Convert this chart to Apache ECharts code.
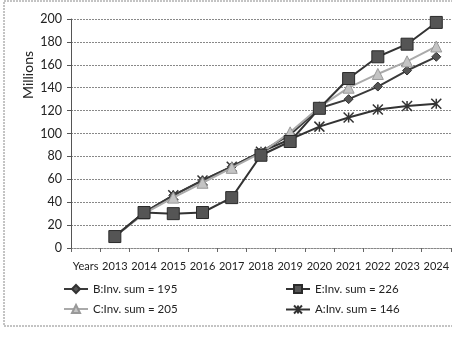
<!DOCTYPE html>
<html>
<head>
<meta charset="utf-8">
<script src="https://cdn.jsdelivr.net/npm/echarts@6/dist/echarts.min.js"></script>
<style>
  html, body { margin: 0; padding: 0; background: #fff; }
  #chart { width: 452px; height: 342px; }
</style>
</head>
<body>
<div id="chart"></div>
<script>
// x categories (first slot holds the "Years" caption, as in the original)
const categories = ['Years', '2013', '2014', '2015', '2016', '2017', '2018', '2019', '2020', '2021', '2022', '2023', '2024']

// values in millions, one per category (first is empty)
const seriesB = [null, 10, 31, 46, 59, 71, 84, 99, 122, 130, 141, 155, 167]
const seriesE = [null, 10, 31, 30, 31, 44, 81, 93, 122, 148, 167, 178, 197]
const seriesC = [null, 10, 30, 44, 57, 70, 83, 101, 123, 140, 152, 163, 176]
const seriesA = [null, 10, 31, 46, 59, 71, 84, 95, 106, 114, 121, 124, 126]

const nameB = 'B:Inv. sum = 195'
const nameE = 'E:Inv. sum = 226'
const nameC = 'C:Inv. sum = 205'
const nameA = 'A:Inv. sum = 146'

const font = 'Lato, "Open Sans", sans-serif'
const xMark = 'path://M0,0 L10,10 M10,0 L0,10 M5,0 L5,10'

const chart = echarts.init(document.getElementById('chart'))

const lineSeries = (name, data, color, symbol, size, itemStyle, z) => ({
  name,
  type: 'line',
  data,
  symbol,
  symbolSize: size,
  showSymbol: true,
  connectNulls: false,
  lineStyle: { color, width: 2 },
  itemStyle,
  z
})

const legendBase = {
  orient: 'vertical',
  top: 283,
  padding: 0,
  itemWidth: 24,
  itemHeight: 10,
  itemGap: 8,
  textStyle: { fontSize: 11.5, color: '#222', fontFamily: font }
}

chart.setOption({
  animation: false,
  backgroundColor: '#fff',
  textStyle: { fontFamily: font },
  graphic: [
    {
      type: 'rect',
      shape: { x: 4, y: 1, width: 470, height: 325 },
      style: { fill: 'none', stroke: '#888', lineWidth: 1, lineDash: [2, 1] },
      silent: true
    },
    {
      type: 'text',
      x: 28,
      y: 75,
      rotation: Math.PI / 2,
      style: {
        text: 'Millions',
        font: '14px ' + font,
        fill: '#222',
        align: 'center',
        verticalAlign: 'middle'
      }
    }
  ],
  grid: { left: 71, right: 0, top: 19, bottom: 94, containLabel: false },
  legend: [
    Object.assign({}, legendBase, { data: [nameB, nameC], left: 63 }),
    Object.assign({}, legendBase, { data: [nameE, nameA], left: 285 })
  ],
  xAxis: {
    type: 'category',
    data: categories,
    boundaryGap: true,
    axisLine: { lineStyle: { color: '#888', type: [2, 1], width: 1 } },
    axisTick: { show: true, length: 4, interval: 0, lineStyle: { color: '#666' } },
    axisLabel: { interval: 0, margin: 13, fontSize: 11, color: '#222', fontFamily: font },
    splitLine: { show: false }
  },
  yAxis: {
    type: 'value',
    min: 0,
    max: 200,
    interval: 20,
    axisLine: { show: true, lineStyle: { color: '#555', width: 1 } },
    axisTick: { show: true, length: 4, lineStyle: { color: '#555' } },
    axisLabel: { margin: 9, fontSize: 12.5, color: '#222', fontFamily: font },
    splitLine: { lineStyle: { color: '#888', type: [2, 1], width: 1 } }
  },
  series: [
    lineSeries(nameA, seriesA, '#333', xMark, 10,
      { color: 'none', borderColor: '#333', borderWidth: 1.5 }, 2),
    lineSeries(nameB, seriesB, '#3a3a3a', 'diamond', 9,
      { color: '#555', borderColor: '#333', borderWidth: 1 }, 3),
    lineSeries(nameC, seriesC, '#aaa', 'triangle', 11,
      { color: '#c4c4c4', borderColor: '#999', borderWidth: 1 }, 4),
    lineSeries(nameE, seriesE, '#333', 'rect', 12,
      { color: '#555', borderColor: '#2a2a2a', borderWidth: 1 }, 5)
  ]
})
</script>
</body>
</html>
